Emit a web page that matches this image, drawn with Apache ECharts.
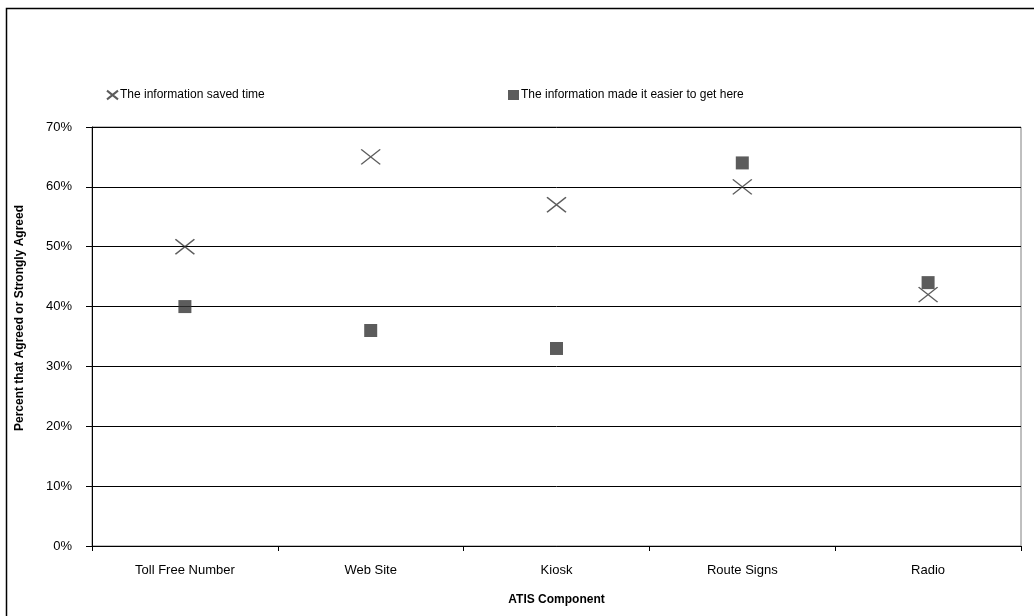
<!DOCTYPE html>
<html>
<head>
<meta charset="utf-8">
<script src="https://cdn.jsdelivr.net/npm/echarts@6/dist/echarts.min.js"></script>
<style>
html,body{margin:0;padding:0;background:#fff;}
#c{width:1034px;height:616px;}
</style>
</head>
<body>
<div id="c"></div>
<script>
var categories = ['Toll Free Number', 'Web Site', 'Kiosk', 'Route Signs', 'Radio'];
var savedTime = [50, 65, 57, 60, 42];
var easierToGet = [40, 36, 33, 64, 44];
var seriesNames = ['The information saved time', 'The information made it easier to get here'];
var yTicks = [0, 10, 20, 30, 40, 50, 60, 70];

var xPath = 'path://M0,0L19,15M19,0L0,15';
var font = 'Liberation Sans, Arial, sans-serif';

var chart = echarts.init(document.getElementById('c'));
chart.setOption({
  backgroundColor: '#fff',
  animation: false,
  graphic: [
    {type: 'rect', shape: {x: 6.5, y: 8.5, width: 1200, height: 800}, style: {fill: 'none', stroke: '#000', lineWidth: 1.5}, silent: true},
    {type: 'text', x: 20, y: 318, rotation: Math.PI / 2,
     style: {text: 'Percent that Agreed or Strongly Agreed', font: 'bold 12px ' + font, fill: '#000', align: 'center', verticalAlign: 'middle'}}
  ],
  grid: {left: 92, right: 13, top: 127, bottom: 70, show: true, borderColor: '#808080', borderWidth: 1},
  legend: [
    {data: [{name: seriesNames[0], icon: xPath}], left: 101, top: 84, itemWidth: 11, itemHeight: 9, itemGap: 2,
     textStyle: {fontFamily: font, fontSize: 12, color: '#000', padding: [0,0,0,-3]}},
    {data: [{name: seriesNames[1], icon: 'rect'}], left: 503, top: 84, itemWidth: 11, itemHeight: 10,
     textStyle: {fontFamily: font, fontSize: 12, color: '#000', padding: [0,0,0,-3]}}
  ],
  xAxis: {
    type: 'category', data: categories, boundaryGap: true,
    name: 'ATIS Component', nameLocation: 'middle', nameGap: 48,
    nameTextStyle: {fontFamily: font, fontSize: 12, fontWeight: 'bold', color: '#000'},
    axisLine: {lineStyle: {color: '#000', width: 1}},
    axisTick: {show: true, length: 5, lineStyle: {color: '#000'}},
    axisLabel: {fontFamily: font, fontSize: 13, color: '#000', margin: 18},
    splitLine: {show: false}
  },
  yAxis: {
    type: 'value', min: 0, max: 70, interval: 10,
    axisLine: {show: true, lineStyle: {color: '#000', width: 1}},
    axisTick: {show: true, length: 6, lineStyle: {color: '#000'}},
    axisLabel: {fontFamily: font, fontSize: 13, color: '#000', margin: 20,
      formatter: function (v) { return yTicks.indexOf(v) >= 0 ? v + '%' : ''; }},
    splitLine: {show: true, lineStyle: {color: '#000', width: 1}}
  },
  series: [
    {name: seriesNames[0], type: 'scatter', data: savedTime, symbol: xPath, symbolSize: [19, 15],
     itemStyle: {color: 'rgba(0,0,0,0)', borderColor: '#333', borderWidth: 1.4}, z: 3},
    {name: seriesNames[1], type: 'scatter', data: easierToGet, symbol: 'rect', symbolSize: 13,
     itemStyle: {color: '#333'}, z: 2}
  ]
});
</script>
</body>
</html>
